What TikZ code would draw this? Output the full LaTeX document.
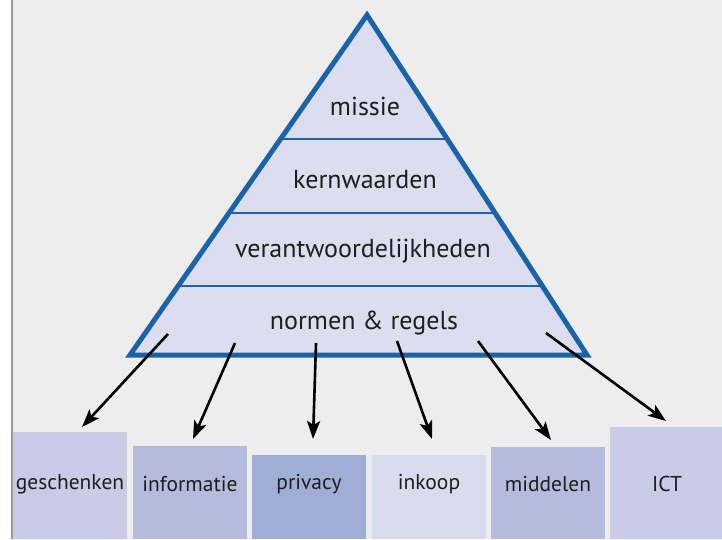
\documentclass[tikz,border=0pt]{standalone}
\usepackage{fontspec}
\setmainfont{PT Sans}
\usetikzlibrary{arrows.meta,calc}
\definecolor{bg}{HTML}{EDEDED}
\definecolor{edge}{HTML}{999999}
\definecolor{triblue}{HTML}{1B63A9}
\definecolor{trifill}{HTML}{DCDDEE}
\definecolor{cA}{HTML}{C8CCE6}
\definecolor{cB}{HTML}{B4BBDD}
\definecolor{cC}{HTML}{A0AED5}
\definecolor{cD}{HTML}{DADCEE}
\definecolor{ink}{HTML}{1E1E1E}
\tikzset{
  tritext/.style={font=\fontsize{26}{30}\selectfont, text=ink, inner sep=0pt},
  boxtext/.style={font=\fontsize{21.5}{25}\selectfont, text=ink, inner sep=0pt},
  box/.style={anchor=north west, inner sep=0pt, draw=none, minimum width=114pt},
  conn/.style={line width=2.6pt, -{Stealth[length=18pt,width=13pt,inset=4pt]}, black},
  layer/.style={draw=triblue, line width=2.5pt},
}
\begin{document}
\begin{tikzpicture}[x=1pt,y=-1pt]
\useasboundingbox (0,0) rectangle (722,539);
\fill[white] (0,0) rectangle (722,539);
\fill[bg] (12,0) rectangle (722,539);
\draw[edge, line width=2pt] (12,0) -- (12,539);

% pyramid
\coordinate (apex) at (367,15);
\coordinate (bl) at (130,355);
\coordinate (br) at (587,355);
\filldraw[fill=trifill, draw=triblue, line width=5pt, line join=miter] (apex) -- (bl) -- (br) -- cycle;
\draw[layer] ($(apex)!0.364!(bl)$) -- ($(apex)!0.364!(br)$);
\draw[layer] ($(apex)!0.582!(bl)$) -- ($(apex)!0.582!(br)$);
\draw[layer] ($(apex)!0.797!(bl)$) -- ($(apex)!0.797!(br)$);

\node[tritext] (missie) at (365,106) {missie};
\node[tritext] (kern) at (365,180) {kernwaarden};
\node[tritext] (verant) at (363,251) {verantwoordelijkheden};
\node[tritext] (normen) at (364,323) {normen \& regels};

% boxes
\node[box, fill=cA, minimum height=107pt] (b1) at (13,432) {};
\node[box, fill=cB, minimum height=93pt] (b2) at (133,446) {};
\node[box, fill=cC, minimum height=84pt] (b3) at (252,455) {};
\node[box, fill=cD, minimum height=84pt] (b4) at (372,455) {};
\node[box, fill=cB, minimum height=92pt] (b5) at (491,447) {};
\node[box, fill=cA, minimum height=112pt, minimum width=112pt] (b6) at (610,427) {};

\node[boxtext] (t1) at (70,484) {geschenken};
\node[boxtext] (t2) at (190,484) {informatie};
\node[boxtext] (t3) at (309,484) {privacy};
\node[boxtext] (t4) at (429,484) {inkoop};
\node[boxtext] (t5) at (548,484) {middelen};
\node[boxtext] (t6) at (667,484) {ICT};

% arrows
\coordinate (s1) at (168,334); \coordinate (e1) at (82,427);
\coordinate (s2) at (235,343); \coordinate (e2) at (193,439);
\coordinate (s3) at (316,343); \coordinate (e3) at (313,439);
\coordinate (s4) at (397,341); \coordinate (e4) at (432,439);
\coordinate (s5) at (478,341); \coordinate (e5) at (551,440);
\coordinate (s6) at (546,333); \coordinate (e6) at (666,421);
\foreach \i in {1,...,6} { \draw[conn] (s\i) -- (e\i); }
\end{tikzpicture}
\end{document}
